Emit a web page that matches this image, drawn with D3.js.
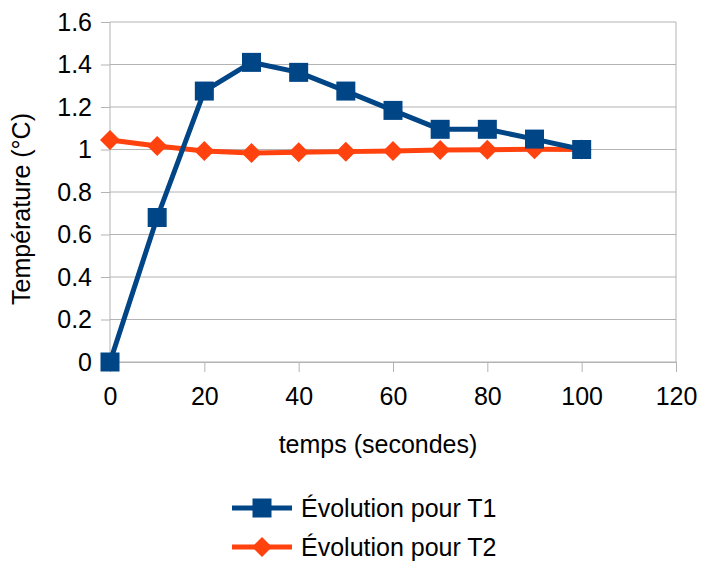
<!DOCTYPE html>
<html><head><meta charset="utf-8">
<script src="https://cdn.jsdelivr.net/npm/d3@7"></script>
<style>body{margin:0;background:#fff}svg{display:block}text{font-family:"Liberation Sans",Arial,sans-serif;fill:#000}</style>
</head><body>
<svg id="c" width="701" height="564"></svg>
<script>
const times = [0,10,20,30,40,50,60,70,80,90,100];
const t1Values = [0,0.68,1.275,1.41,1.363,1.275,1.184,1.095,1.095,1.049,1.0];
const t2Values = [1.045,1.016,0.993,0.983,0.987,0.99,0.993,0.998,0.999,1.001,1.0];
const xTicks = [0,20,40,60,80,100,120];
const yTicks = [0,0.2,0.4,0.6,0.8,1,1.2,1.4,1.6];
const seriesNames = ["Évolution pour T1","Évolution pour T2"];
const colors = ["#004586","#ff420e"];

const FS = 25;
const svg = d3.select("#c");
const x = d3.scaleLinear().domain([0,120]).range([110,676]);
const y = d3.scaleLinear().domain([0,1.6]).range([362,22]);
const grid = "#b3b3b3";

svg.append("g").selectAll("line").data(yTicks).join("line")
  .attr("x1",x(0)).attr("x2",x(120)).attr("y1",d=>y(d)).attr("y2",d=>y(d))
  .attr("stroke",grid).attr("stroke-width",1);
svg.append("line").attr("x1",x(0)).attr("x2",x(0)).attr("y1",y(1.6)).attr("y2",y(0)).attr("stroke",grid);
svg.append("line").attr("x1",x(120)).attr("x2",x(120)).attr("y1",y(1.6)).attr("y2",y(0)).attr("stroke",grid);

const yAxis = d3.axisLeft(y).tickValues(yTicks).tickSize(9).tickPadding(9).tickFormat(d=>String(+d.toFixed(1)));
const gy = svg.append("g").attr("transform",`translate(${x(0)},0)`).call(yAxis);
gy.attr("font-size",FS).attr("font-family","Liberation Sans, Arial, sans-serif");
gy.select(".domain").remove();
gy.selectAll("line").attr("stroke",grid);
gy.selectAll("text").attr("fill","#000");

const xAxis = d3.axisBottom(x).tickValues(xTicks).tickSize(10).tickPadding(15).tickFormat(d3.format("d"));
const gx = svg.append("g").attr("transform",`translate(0,${y(0)})`).call(xAxis);
gx.attr("font-size",FS).attr("font-family","Liberation Sans, Arial, sans-serif");
gx.select(".domain").attr("stroke",grid);
gx.selectAll("line").attr("stroke",grid);
gx.selectAll("text").attr("fill","#000");

svg.append("text").attr("x",378).attr("y",453).attr("text-anchor","middle").attr("font-size",FS).text("temps (secondes)");
svg.append("text").attr("transform","translate(30,209) rotate(-90)").attr("text-anchor","middle").attr("font-size",FS).text("Température (°C)");

const line = d3.line().x((d,i)=>x(times[i])).y(d=>y(d));
const sq = 19, dm = 10;
function square(g,cx,cy,c){g.append("rect").attr("x",cx-sq/2).attr("y",cy-sq/2).attr("width",sq).attr("height",sq).attr("fill",c);}
function diamond(g,cx,cy,c){g.append("path").attr("d",`M${cx},${cy-dm}L${cx+dm},${cy}L${cx},${cy+dm}L${cx-dm},${cy}Z`).attr("fill",c);}

const g2 = svg.append("g");
g2.append("path").datum(t2Values).attr("d",line).attr("fill","none").attr("stroke",colors[1]).attr("stroke-width",5).attr("stroke-linejoin","round");
t2Values.forEach((v,i)=>diamond(g2,x(times[i]),y(v),colors[1]));
const g1 = svg.append("g");
g1.append("path").datum(t1Values).attr("d",line).attr("fill","none").attr("stroke",colors[0]).attr("stroke-width",5).attr("stroke-linejoin","round");
t1Values.forEach((v,i)=>square(g1,x(times[i]),y(v),colors[0]));

const leg = svg.append("g");
const rows = [508,547];
seriesNames.forEach((n,i)=>{
  leg.append("line").attr("x1",232).attr("x2",292).attr("y1",rows[i]).attr("y2",rows[i]).attr("stroke",colors[i]).attr("stroke-width",5);
  if(i===0) square(leg,262,rows[i],colors[0]); else diamond(leg,262,rows[i],colors[1]);
  leg.append("text").attr("x",301).attr("y",rows[i]+9).attr("font-size",FS).text(n);
});
</script>
</body></html>
